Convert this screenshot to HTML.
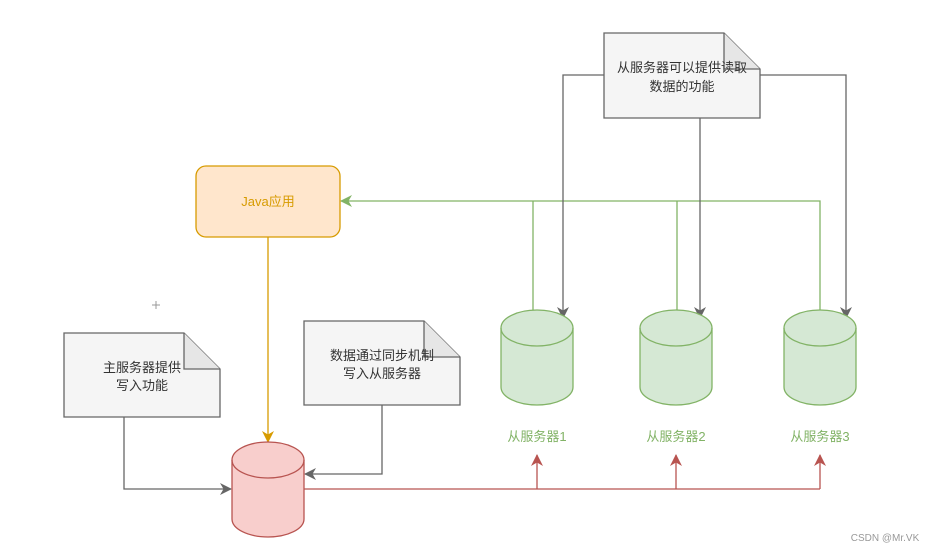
<!DOCTYPE html>
<html><head><meta charset="utf-8"><style>body{margin:0;background:#fff}svg{display:block}text{font-family:"Liberation Sans","Noto Sans CJK SC",sans-serif;font-size:13px;text-anchor:middle}</style></head><body>
<svg width="936" height="552" viewBox="0 0 936 552">
<defs>
<marker id="g" markerWidth="12" markerHeight="12" refX="11" refY="6" orient="auto" markerUnits="userSpaceOnUse"><path d="M0,0 L12,6 L0,12 L3.5,6Z" fill="#666"/></marker>
<marker id="gr" markerWidth="12" markerHeight="12" refX="11" refY="6" orient="auto" markerUnits="userSpaceOnUse"><path d="M0,0 L12,6 L0,12 L3.5,6Z" fill="#82b366"/></marker>
<marker id="r" markerWidth="12" markerHeight="12" refX="11" refY="6" orient="auto" markerUnits="userSpaceOnUse"><path d="M0,0 L12,6 L0,12 L3.5,6Z" fill="#b85450"/></marker>
<marker id="y" markerWidth="12" markerHeight="12" refX="11" refY="6" orient="auto" markerUnits="userSpaceOnUse"><path d="M0,0 L12,6 L0,12 L3.5,6Z" fill="#d79b00"/></marker>
</defs>
<g fill="none" stroke-width="1.3">
<path d="M533 310V201M677 310V201M820 310V201H341" stroke="#82b366" marker-end="url(#gr)"/>
<path d="M604 75H563V318" stroke="#666" marker-end="url(#g)"/>
<path d="M700 118V318" stroke="#666" marker-end="url(#g)"/>
<path d="M760 75H846V318" stroke="#666" marker-end="url(#g)"/>
<path d="M268 237V442" stroke="#d79b00" marker-end="url(#y)"/>
<path d="M124 417V489H231" stroke="#666" marker-end="url(#g)"/>
<path d="M382 405V474H305" stroke="#666" marker-end="url(#g)"/>
<path d="M304 489H820" stroke="#b85450"/>
<path d="M537 489V455" stroke="#b85450" marker-end="url(#r)"/>
<path d="M676 489V455" stroke="#b85450" marker-end="url(#r)"/>
<path d="M820 489V455" stroke="#b85450" marker-end="url(#r)"/>
</g>
<g stroke="#666" stroke-width="1.3">
<path d="M604 33H724L760 69V118H604Z" fill="#f5f5f5"/><path d="M724 33V69H760" fill="#e6e6e6"/>
<path d="M64 333H184L220 369V417H64Z" fill="#f5f5f5"/><path d="M184 333V369H220" fill="#e6e6e6"/>
<path d="M304 321H424L460 357V405H304Z" fill="#f5f5f5"/><path d="M424 321V357H460" fill="#e6e6e6"/>
</g>
<rect x="196" y="166" width="144" height="71" rx="10" fill="#ffe6cc" stroke="#d79b00" stroke-width="1.3"/>
<g stroke-width="1.3">
<path d="M232 460A36 18 0 0 1 304 460V519A36 18 0 0 1 232 519Z" fill="#f8cecc" stroke="#b85450"/><path d="M232 460A36 18 0 0 0 304 460" fill="none" stroke="#b85450"/>
<path d="M501 328A36 18 0 0 1 573 328V387A36 18 0 0 1 501 387Z" fill="#d5e8d4" stroke="#82b366"/><path d="M501 328A36 18 0 0 0 573 328" fill="none" stroke="#82b366"/>
<path d="M640 328A36 18 0 0 1 712 328V387A36 18 0 0 1 640 387Z" fill="#d5e8d4" stroke="#82b366"/><path d="M640 328A36 18 0 0 0 712 328" fill="none" stroke="#82b366"/>
<path d="M784 328A36 18 0 0 1 856 328V387A36 18 0 0 1 784 387Z" fill="#d5e8d4" stroke="#82b366"/><path d="M784 328A36 18 0 0 0 856 328" fill="none" stroke="#82b366"/>
</g>
<path d="M152 305H160M156 301V309" stroke="#999"/>
<text x="268" y="206" fill="#d79b00">Java应用</text>
<text x="682" y="72" fill="#333">从服务器可以提供读取</text><text x="682" y="91" fill="#333">数据的功能</text>
<text x="142" y="372" fill="#333">主服务器提供</text><text x="142" y="390" fill="#333">写入功能</text>
<text x="382" y="360" fill="#333">数据通过同步机制</text><text x="382" y="378" fill="#333">写入从服务器</text>
<text x="537" y="441" fill="#82b366">从服务器1</text>
<text x="676" y="441" fill="#82b366">从服务器2</text>
<text x="820" y="441" fill="#82b366">从服务器3</text>
<text x="885" y="541" fill="#999" style="font-size:10px">CSDN @Mr.VK</text>
</svg></body></html>
